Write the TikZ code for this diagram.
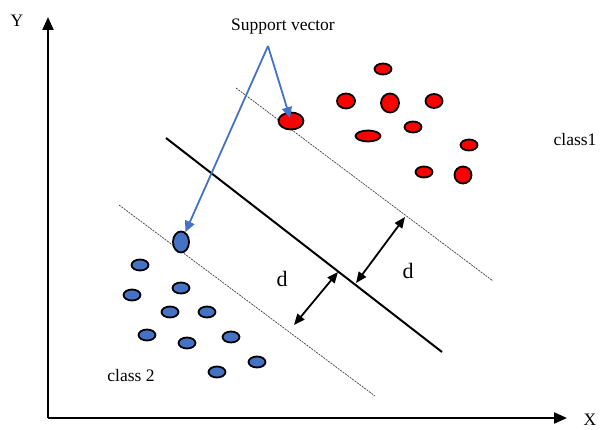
\documentclass[tikz,border=0pt]{standalone}
\usepackage{fontspec}
\setmainfont{Liberation Serif}
\usepackage{xcolor}
\usetikzlibrary{arrows.meta,shapes.geometric}
\definecolor{svblue}{RGB}{68,114,196}

\begin{document}
\begin{tikzpicture}[x=1pt,y=-1pt,
  redpt/.style={ellipse,draw,line width=1.8pt,fill=red,inner sep=0pt},
  bluept/.style={ellipse,draw,line width=1.8pt,fill=svblue,inner sep=0pt},
  txt/.style={font=\fontsize{17.5}{20}\selectfont},
  axis/.style={line width=2.2pt,-{Triangle[length=13pt,width=11pt]}},
  margin/.style={line width=0.7pt,black!75,dash pattern=on 2pt off 1pt},
  dist/.style={line width=1.8pt,{Triangle[length=11pt,width=9pt]}-{Triangle[length=11pt,width=9pt]}},
  svarrow/.style={line width=1.8pt,svblue,-{Triangle[length=11pt,width=10pt]}}]
  \useasboundingbox (0,0) rectangle (601,430);
  % axes
  \coordinate (O) at (48,418);
  \coordinate (ytop) at (48,17);
  \coordinate (xend) at (567,418);
  \draw[axis] (O) -- (ytop);
  \draw[axis] (O) -- (xend);
  \node[txt] (ylab) at (17,21) {Y};
  \node[txt,inner sep=1pt] (xlab) at (590,420) {X};
  % hyperplane and margins
  \coordinate (h1) at (166,138); \coordinate (h2) at (442,352);
  \coordinate (u1) at (236,88);  \coordinate (u2) at (493,281);
  \coordinate (l1) at (119,205); \coordinate (l2) at (375,396);
  \draw[line width=2pt] (h1) -- (h2);
  \draw[margin] (u1) -- (u2);
  \draw[margin] (l1) -- (l2);
  % class 1
  \foreach \n/\p/\w/\h in {r1/{(383,69)}/17/11,r2/{(346,101)}/18/15,r3/{(390,103)}/18/19,
      r4/{(434,101)}/17/14,r5/{(413,127)}/17/11,r6/{(368,136)}/25/11,r7/{(469,145)}/17/11,
      r8/{(424,172)}/17/11,r9/{(463,175)}/17/17,rsv/{(291,121)}/25/17}
    \node[redpt,minimum width=\w,minimum height=\h] (\n) at \p {};
  % class 2
  \foreach \n/\p in {b1/{(140,265)},b2/{(132,295)},b3/{(181,288)},b4/{(170,312)},
      b5/{(207,312)},b6/{(147,335)},b7/{(187,343)},b8/{(231,337)},b9/{(257,362)},b10/{(217,372)}}
    \node[bluept,minimum width=17,minimum height=11] (\n) at \p {};
  \node[bluept,minimum width=16,minimum height=21] (bsv) at (181,242) {};
  % margin width
  \coordinate (a1) at (356,283); \coordinate (a2) at (405,217);
  \coordinate (b1) at (338,272); \coordinate (b2) at (294,325);
  \draw[dist] (a1) -- (a2);
  \draw[dist] (b1) -- (b2);
  \node[font=\fontsize{22}{24}\selectfont] (dr) at (408,271) {d};
  \node[font=\fontsize{22}{24}\selectfont] (dl) at (282,279) {d};
  % labels
  \node[txt] (cls1) at (575,140) {class1};
  \node[txt] (cls2) at (131,376) {class 2};
  \node[txt] (sv) at (283,27) {Support vector};
  \coordinate (svfoot) at (268,46);
  \draw[svarrow] (svfoot) -- (bsv);
  \draw[svarrow,shorten >=3pt] (svfoot) -- (rsv.center);
\end{tikzpicture}
\end{document}
